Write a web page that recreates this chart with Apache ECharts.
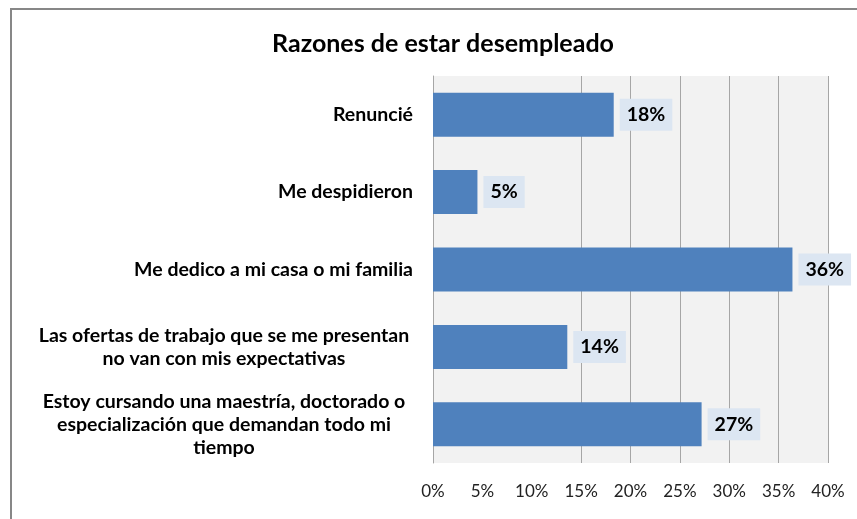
<!DOCTYPE html>
<html>
<head>
<meta charset="utf-8">
<script src="https://cdn.jsdelivr.net/npm/echarts@6/dist/echarts.min.js"></script>
<style>
  html, body { margin: 0; padding: 0; background: #fff; overflow: hidden; }
  #frame { position: absolute; left: 10px; top: 8px; width: 845px; height: 509px;
           border-top: 2px solid #878787; border-left: 2px solid #878787; }
  #main { position: absolute; left: 0; top: 0; width: 857px; height: 519px; }
</style>
</head>
<body>
<div id="frame"></div>
<div id="main"></div>
<script>
var titulo = 'Razones de estar desempleado';
var categorias = [
    'Renuncié',
    'Me despidieron',
    'Me dedico a mi casa o mi familia',
    'Las ofertas de trabajo que se me presentan\nno van con mis expectativas',
    'Estoy cursando una maestría, doctorado o\nespecialización que demandan todo mi\ntiempo'
];
var porcentajes = [18.3, 4.5, 36.4, 13.6, 27.2];
var ejeMin = 0, ejeMax = 40, ejePaso = 5;

var azul = '#4f81bd',
    fondo = '#f2f2f2',
    rejilla = '#a6a6a6';

var myChart = echarts.init(document.getElementById('main'));

// las lineas de 5% y 10% no se ven en el original
var coloresRejilla = [rejilla, 'rgba(0,0,0,0)', 'rgba(0,0,0,0)', rejilla, rejilla, rejilla, rejilla, rejilla, rejilla];

option = {
    animation: false,
    title: {
        text: titulo,
        left: 438,
        top: 26,
        textAlign: 'center',
        textStyle: { fontFamily: 'Lato', fontWeight: 'bold', fontSize: 25, color: '#000' }
    },
    grid: {
        left: 433, right: 29, top: 76, bottom: 56,
        show: true,
        backgroundColor: fondo,
        borderWidth: 0,
        outerBoundsMode: 'none'
    },
    xAxis: {
        type: 'value',
        min: ejeMin, max: ejeMax, interval: ejePaso,
        axisLine: { show: false },
        axisTick: { show: false },
        splitLine: { show: true, lineStyle: { color: coloresRejilla, width: 1 } },
        axisLabel: {
            formatter: '{value}%',
            margin: 20,
            fontFamily: 'Lato',
            fontSize: 17,
            color: '#222'
        }
    },
    yAxis: {
        type: 'category',
        inverse: true,
        data: categorias,
        axisTick: { show: false },
        axisLine: { show: true, lineStyle: { color: rejilla, width: 1 } },
        axisLabel: {
            margin: 20,
            fontFamily: 'Lato',
            fontWeight: 'bold',
            fontSize: 19.5,
            lineHeight: 23,
            color: '#000',
            formatter: function (v) {
                if (v.indexOf('\n') < 0) return v;
                return v.split('\n').map(function (l) { return '{c|' + l + '}'; }).join('\n');
            },
            rich: {
                c: { width: 378, align: 'center', fontFamily: 'Lato', fontWeight: 'bold', fontSize: 19.5, lineHeight: 23, color: '#000' }
            }
        }
    },
    series: [{
        type: 'bar',
        data: porcentajes,
        barWidth: 44,
        itemStyle: { color: azul },
        label: {
            show: true,
            position: 'right',
            distance: 6,
            formatter: function (p) { return Math.round(p.value) + '%'; },
            fontFamily: 'Lato',
            fontWeight: 'bold',
            fontSize: 19.5,
            color: '#000',
            backgroundColor: '#dce6f2',
            padding: [6, 7, 6, 7]
        }
    }]
};

myChart.setOption(option);
</script>
</body>
</html>
